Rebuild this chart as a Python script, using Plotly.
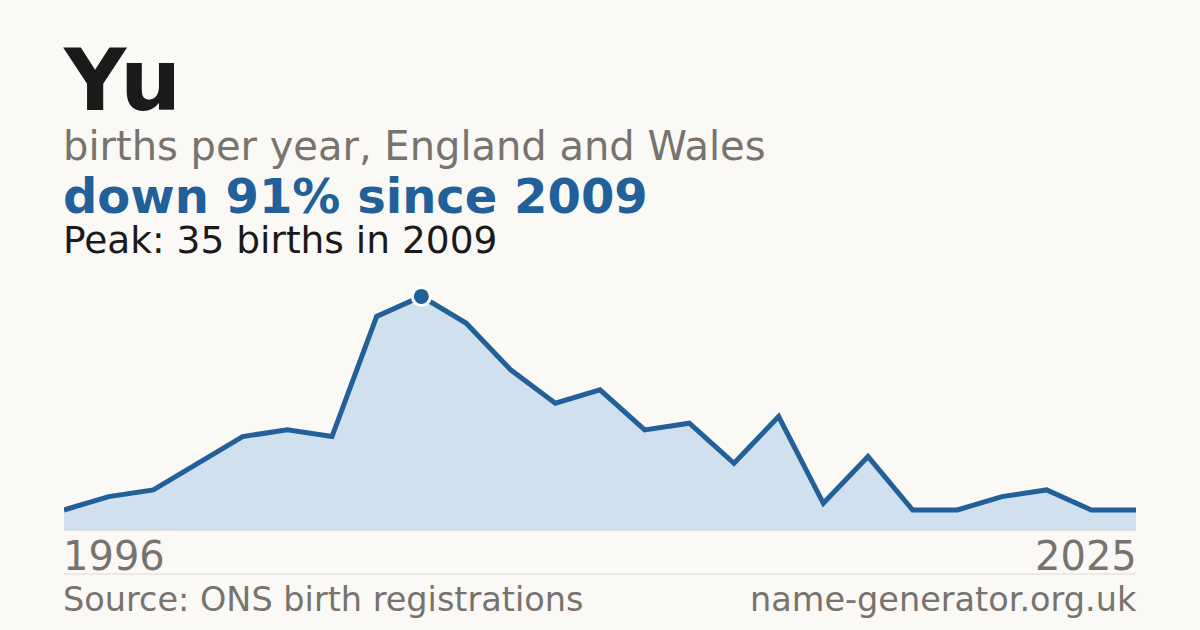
import plotly.graph_objects as go

# births per year for the name Yu (England and Wales)
years = ["1996", "1998", "2000", "2002", "2004", "2006", "2007", "2008", "2009",
         "2010", "2011", "2012", "2013", "2014", "2015", "2016", "2017", "2018",
         "2019", "2020", "2021", "2022", "2023", "2024", "2025"]
births = [3, 5, 6, 10, 14, 15, 14, 32, 35, 31, 24, 19, 21, 15, 16, 10, 17, 4,
          11, 3, 3, 5, 6, 3, 3]
peak_year = "2009"
peak_value = 35

blue = "#22609a"
grey = "#78736c"
font = "DejaVu Sans"

fig = go.Figure()

fig.add_trace(go.Scatter(
    x=years, y=births, mode="lines",
    line=dict(color=blue, width=5),
    fill="tozeroy", fillcolor="#d0e0ef",
    hoverinfo="skip",
))

# peak dot
fig.add_trace(go.Scatter(
    x=[peak_year], y=[peak_value], mode="markers",
    marker=dict(size=18, color=blue, line=dict(color="white", width=3)),
    hoverinfo="skip", cliponaxis=False,
))

fig.update_layout(
    width=1200, height=630,
    paper_bgcolor="#faf9f5", plot_bgcolor="#faf9f5",
    margin=dict(l=64, r=64, t=263, b=100),
    showlegend=False,
    font=dict(family=font),
    xaxis=dict(type="category", range=[0, len(years) - 1], showgrid=False,
               zeroline=False, showticklabels=False, showline=False),
    yaxis=dict(range=[0, 40], showgrid=False, zeroline=False,
               showticklabels=False),
)

def note(text, x, y, size, color, bold=False, anchor="left"):
    fig.add_annotation(
        text=f"<b>{text}</b>" if bold else text,
        xref="paper", yref="paper", x=x, y=y,
        xanchor=anchor, yanchor="middle", showarrow=False,
        font=dict(size=size, color=color, family=font),
    )

note("Yu", -0.003, 1.685, 86, "#1a1a1a", bold=True)
note("births per year, England and Wales", -0.003, 1.44, 40, grey)
note("down 91% since 2009", -0.003, 1.251, 48, blue, bold=True)
note("Peak: 35 births in 2009", -0.003, 1.086, 37.5, "#1a1a1a")
note(years[0], -0.003, -0.097, 40, grey)
note(years[-1], 1.003, -0.097, 40, grey, anchor="right")
note("Source: ONS birth registrations", -0.003, -0.26, 33.5, grey)
note("name-generator.org.uk", 1.003, -0.26, 33.5, grey, anchor="right")

# baseline and footer rule
fig.add_shape(type="line", xref="paper", yref="paper", x0=0, x1=1, y0=0, y1=0,
              line=dict(color="#dddad3", width=1.5))
fig.add_shape(type="line", xref="paper", yref="paper", x0=0, x1=1,
              y0=-0.165, y1=-0.165, line=dict(color="#dddad3", width=1))

# page has a default body margin, take it off so the card fills the window
fig.write_html("out.html", config={"displayModeBar": False},
               post_script="document.body.style.margin='0';")
